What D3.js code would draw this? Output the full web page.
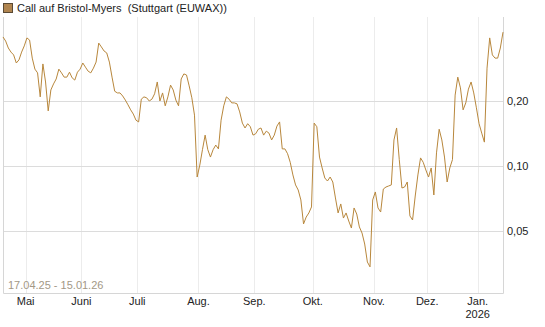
<!DOCTYPE html>
<html><head><meta charset="utf-8">
<script src="https://cdn.jsdelivr.net/npm/d3@7"></script>
<style>body{margin:0;background:#fff}svg{display:block}text{font-family:"Liberation Sans",Arial,sans-serif;white-space:pre}</style>
</head><body>
<script>
const title = "Call auf Bristol-Myers  (Stuttgart (EUWAX))";
const rangeLabel = "17.04.25 - 15.01.26";
// daily closing values, one per trading day (17.04.25 .. 15.01.26)
const prices = [
0.396,0.379,0.352,0.337,0.327,0.300,0.310,0.337,0.360,0.392,
0.383,0.316,0.281,0.270,0.209,0.297,0.245,0.180,0.225,0.240,
0.253,0.281,0.270,0.258,0.258,0.272,0.256,0.250,0.272,0.281,
0.300,0.287,0.275,0.270,0.284,0.303,0.371,0.356,0.341,0.334,
0.303,0.258,0.222,0.218,0.218,0.211,0.202,0.192,0.182,0.174,
0.163,0.160,0.204,0.209,0.207,0.200,0.204,0.216,0.245,0.200,
0.218,0.190,0.209,0.237,0.225,0.202,0.190,0.253,0.267,0.264,
0.235,0.207,0.172,0.0889,0.101,0.119,0.139,0.119,0.110,0.119,
0.125,0.120,0.163,0.190,0.209,0.204,0.196,0.196,0.194,0.178,
0.158,0.150,0.157,0.152,0.139,0.141,0.148,0.150,0.139,0.145,
0.142,0.132,0.139,0.153,0.160,0.120,0.120,0.114,0.104,0.0909,
0.0817,0.0774,0.0696,0.0539,0.0580,0.0606,0.0646,0.158,0.152,0.110,
0.0979,0.0880,0.0852,0.0889,0.0843,0.0711,0.0606,0.0667,0.0574,0.0606,
0.0556,0.0516,0.0639,0.0599,0.0522,0.0489,0.0435,0.0359,0.0341,0.0696,
0.0758,0.0639,0.0612,0.0782,0.0799,0.0808,0.0817,0.132,0.150,0.107,
0.0791,0.0799,0.0843,0.0587,0.0562,0.0726,0.0909,0.109,0.104,0.0958,
0.0889,0.0979,0.0734,0.115,0.148,0.132,0.110,0.0843,0.0979,0.107,
0.213,0.258,0.230,0.182,0.196,0.227,0.245,0.218,0.186,0.157,
0.142,0.129,0.284,0.392,0.327,0.316,0.316,0.352,0.417
];
// month labels and the trading-day index of each month's first session
const monthLabels = ["Mai","Juni","Juli","Aug.","Sep.","Okt.","Nov.","Dez.","Jan."];
const monthStart = [9,30,51,74,95,117,140,160,179];
const yearLabels = ["","","","","","","","","2026"];
const yTicks = [0.05,0.10,0.20];
const yTickLabels = ["0,05","0,10","0,20"];

const W=545,H=327;
const L=3,R=503,T=17,B=293;
const svg=d3.select("body").append("svg").attr("width",W).attr("height",H);

const x=d3.scaleLinear().domain([0,prices.length-1]).range([L,R]);
const y=d3.scaleLog().domain([0.0258,0.49]).range([B,T]);

// vertical grid
svg.append("g").selectAll("line").data(monthStart).join("line")
 .attr("x1",d=>Math.round(x(d-0.5))+0.5).attr("x2",d=>Math.round(x(d-0.5))+0.5)
 .attr("y1",T).attr("y2",B).attr("stroke","#ececec").attr("stroke-width",1);
// horizontal grid
svg.append("g").selectAll("line").data(yTicks).join("line")
 .attr("x1",L).attr("x2",R).attr("y1",d=>Math.round(y(d))+0.5).attr("y2",d=>Math.round(y(d))+0.5)
 .attr("stroke","#dcdcdc").attr("stroke-width",1);
// frame (left, bottom, right)
svg.append("path").attr("d",`M${L+0.5},${T}V${B+0.5}H${R+0.5}V${T}`)
 .attr("fill","none").attr("stroke","#d6d6d6").attr("stroke-width",1);

// y labels
svg.append("g").selectAll("text").data(yTicks).join("text")
 .attr("x",R+4).attr("y",d=>y(d)+4).attr("font-size",11).attr("fill","#222")
 .text((d,i)=>yTickLabels[i]);

// x labels
const xl=svg.append("g");
xl.selectAll("text.m").data(monthStart).join("text").attr("class","m")
 .attr("x",d=>x(d-0.5)).attr("y",305).attr("text-anchor","middle").attr("font-size",11).attr("fill","#222")
 .text((d,i)=>monthLabels[i]);
xl.selectAll("text.yr").data(monthStart).join("text").attr("class","yr")
 .attr("x",d=>x(d-0.5)).attr("y",318).attr("text-anchor","middle").attr("font-size",11).attr("fill","#222")
 .text((d,i)=>yearLabels[i]);

// date range label
svg.append("text").attr("x",8).attr("y",289).attr("font-size",11).attr("fill","#a39886").text(rangeLabel);

// line
svg.append("path").datum(prices)
 .attr("d",d3.line().x((d,i)=>x(i)).y(d=>y(d)))
 .attr("fill","none").attr("stroke","#b8873c").attr("stroke-width",1);

// title with legend swatch
svg.append("rect").attr("x",3.5).attr("y",3.5).attr("width",9).attr("height",9)
 .attr("fill","#b08550").attr("stroke","#5a4a35").attr("stroke-width",1);
svg.append("text").attr("x",17).attr("y",12).attr("font-size",11).attr("fill","#222").attr("xml:space","preserve").text(title);
</script>
</body></html>
